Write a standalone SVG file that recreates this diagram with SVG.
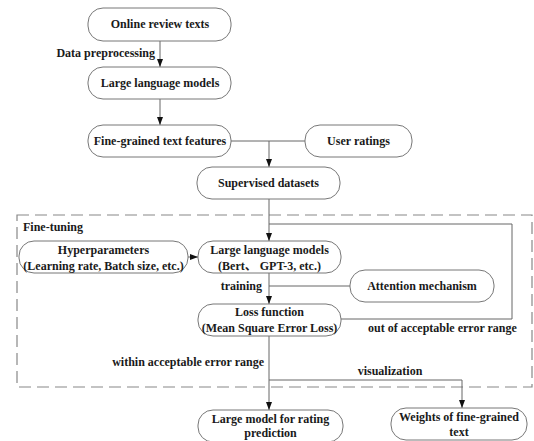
<svg xmlns="http://www.w3.org/2000/svg" width="534" height="441" viewBox="0 0 534 441">
<style>
.n{fill:#fff;stroke:#777;stroke-width:1}
.t{font-family:"Liberation Serif","Noto Sans CJK SC",serif;font-weight:bold;font-size:12px;fill:#1a1a1a;text-anchor:middle}
.l{font-family:"Liberation Serif","Noto Sans CJK SC",serif;font-weight:bold;font-size:12px;fill:#1a1a1a}
.c{fill:none;stroke:#666;stroke-width:1}
.a{fill:none;stroke:#666;stroke-width:1;marker-end:url(#ah)}
</style>
<defs>
<marker id="ah" viewBox="0 0 8 8" refX="8" refY="4" markerWidth="8" markerHeight="8" markerUnits="userSpaceOnUse" orient="auto">
<path d="M0,1 L8,4 L0,7 Z" fill="#111"/>
</marker>
</defs>
<rect x="17" y="215" width="515" height="172" fill="none" stroke="#888" stroke-width="1.2" stroke-dasharray="12,6"/>
<text class="l" x="23" y="231">Fine-tuning</text>
<g id="connectors">
<path class="a" d="M160,41 V67"/>
<path class="a" d="M160,99 V125"/>
<path class="c" d="M231,141 H305"/>
<path class="a" d="M269,141 V167"/>
<path class="a" d="M269,199 V241"/>
<path class="a" d="M188,257 H198"/>
<path class="a" d="M269,273 V304"/>
<path class="c" d="M350,286 H269"/>
<path class="c" d="M341,319 H512 V224 H269"/>
<path class="a" d="M269,336 V410"/>
<path class="a" d="M269,380 H462 V408"/>
<text class="l" x="155" y="57" text-anchor="end">Data preprocessing</text>
<text class="l" x="262" y="290" text-anchor="end">training</text>
<text class="l" x="368" y="332">out of acceptable error range</text>
<text class="l" x="264" y="366" text-anchor="end">within acceptable error range</text>
<text class="l" x="390" y="375" text-anchor="middle">visualization</text>
</g>
<g id="online-review-texts"><rect class="n" x="88" y="8" width="143" height="33" rx="15"/><text class="t" x="160" y="28">Online review texts</text></g>
<g id="llm-1"><rect class="n" x="88" y="67" width="143" height="32" rx="15"/><text class="t" x="160" y="87">Large language models</text></g>
<g id="fine-grained-features"><rect class="n" x="88" y="125" width="143" height="32" rx="15"/><text class="t" x="160" y="145">Fine-grained text features</text></g>
<g id="user-ratings"><rect class="n" x="305" y="125" width="107" height="32" rx="15"/><text class="t" x="358.5" y="145">User ratings</text></g>
<g id="supervised-datasets"><rect class="n" x="197" y="167" width="143" height="32" rx="15"/><text class="t" x="268.5" y="187">Supervised datasets</text></g>
<g id="hyperparameters"><rect class="n" x="19" y="241" width="169" height="32" rx="15"/><text class="t" x="103.5" y="254">Hyperparameters</text><text class="t" x="103.5" y="270">(Learning rate, Batch size, etc.)</text></g>
<g id="llm-2"><rect class="n" x="198" y="241" width="143" height="32" rx="15"/><text class="t" x="269.5" y="254">Large language models</text><text class="t" x="269.5" y="270">(Bert、 GPT-3, etc.)</text></g>
<g id="attention"><rect class="n" x="350" y="270" width="144" height="32" rx="15"/><text class="t" x="422" y="290">Attention mechanism</text></g>
<g id="loss-function"><rect class="n" x="198" y="304" width="143" height="32" rx="15"/><text class="t" x="269.5" y="316">Loss function</text><text class="t" x="269.5" y="332">(Mean Square Error Loss)</text></g>
<g id="rating-model"><rect class="n" x="198" y="410" width="145" height="32" rx="15"/><text class="t" x="270.5" y="423">Large model for rating</text><text class="t" x="270.5" y="437">prediction</text></g>
<g id="weights"><rect class="n" x="391" y="408" width="136" height="32" rx="15"/><text class="t" x="459" y="421">Weights of fine-grained</text><text class="t" x="459" y="436">text</text></g>
</svg>
